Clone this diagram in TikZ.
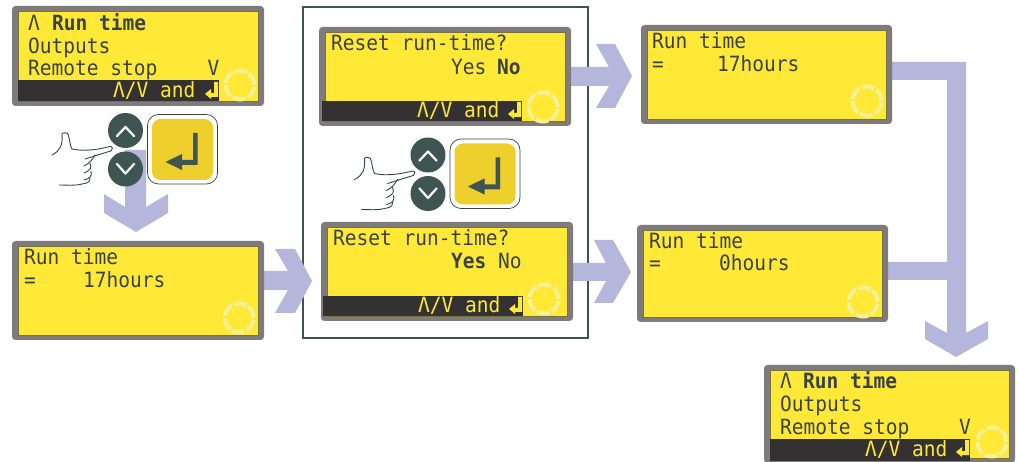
\documentclass[tikz,border=0pt]{standalone}
\usepackage{fontspec}
\newfontfamily\lcdfont[FakeStretch=0.93]{DejaVu Sans Mono}
\usetikzlibrary{calc}
\definecolor{lcdyellow}{HTML}{FFE936}
\definecolor{lcdgray}{HTML}{7F7B7B}
\definecolor{lcdbar}{HTML}{333132}
\definecolor{lcdink}{HTML}{3A4245}
\definecolor{flowblue}{HTML}{B4B6DB}
\definecolor{slate}{HTML}{3E5553}
\definecolor{keyyellow}{HTML}{EFCF2B}
\definecolor{ringcol}{HTML}{F6F097}
\newcounter{tc}
\tikzset{
  x=1pt,y=-1pt,
  lcdframe/.style={fill=lcdgray,rounded corners=3.5pt},
  lcdface/.style={fill=lcdyellow,draw=lcdink!70!lcdyellow,line width=.5pt},
  lcdtext/.style={font=\lcdfont\fontsize{21}{22}\selectfont,text=lcdink,anchor=base west,inner sep=0pt,outer sep=0pt},
  lcdbold/.style={lcdtext,font=\lcdfont\bfseries\fontsize{21}{22}\selectfont},
  bartext/.style={lcdtext,text=lcdyellow},
  flow/.style={fill=flowblue,draw=none},
  keycirc/.style={fill=slate,draw=none,circle,minimum size=35pt,inner sep=0pt},
  chev/.style={draw=white,line width=2.2pt,line cap=round,line join=round},
  handline/.style={draw=lcdink,line width=.9pt,line cap=round,line join=round},
  ring/.style={draw=ringcol,line width=4pt,dash pattern=on 13pt off 2.2pt},
}
\newcommand{\lcdt}[4][lcdtext]{\stepcounter{tc}\node[#1] (t\arabic{tc}) at (#2,#3) {#4};}
% name, x0, y0, x1, y1, ring x, ring y
\newcommand{\lcdbox}[7]{%
  \path[lcdframe] (#2,#3) rectangle (#4,#5);
  \path[lcdface] (#2+6,#3+5) rectangle (#4-6,#5-5);
  \coordinate (#1) at (#2,#3);
  \draw[ring] (#6,#7) circle[radius=14.5pt];
}
% bar left, bar top, bar right, bar bottom, text x, baseline
\newcommand{\lcdbar}[6]{%
  \path[fill=lcdbar] (#1,#2) rectangle (#3,#4);
  \lcdt[bartext]{#5}{#6}{\char"039B/V and}
  \path[fill=lcdyellow] (#3-5,#6-16) -- (#3-1,#6-16) -- (#3-1,#6-1) -- (#3-8,#6-1) -- (#3-8,#6+1) -- (#3-14,#6-4) -- (#3-8,#6-9) -- (#3-8,#6-5) -- (#3-5,#6-5) -- cycle;
}
\newcommand{\keys}[3]{% name, dx, dy
  \begin{scope}[shift={(#2,#3)}]
    \node[keycirc] (#1up) at (125.5,130.5) {};
    \node[keycirc] (#1dn) at (125.5,169) {};
    \draw[chev] (117,136) -- (125.5,127) -- (134,136);
    \draw[chev] (117,164) -- (125.5,173.5) -- (134,164);
    \path[fill=white,draw=lcdink,line width=.7pt,rounded corners=11pt] (147.5,114.5) rectangle (217.5,184);
    \path[fill=keyyellow,rounded corners=8.5pt] (152,119) rectangle (213,180);
    \path[fill=slate] (193,133) -- (197.5,133) -- (197.5,165) -- (182,165) -- (182,170) -- (165.5,162) -- (182,154) -- (182,160) -- (193,160) -- cycle;
    \draw[handline] (52,155) .. controls (60,151) and (63,145) .. (62,134) .. controls (63,132) and (67,133) .. (68,134) .. controls (70,140) and (70,146) .. (72,149) .. controls (85,152) and (100,149) .. (110,146.5) .. controls (113,146) and (113,150) .. (111,151) .. controls (100,154) and (92,157) .. (85,159);
    \draw[handline] (95,155) .. controls (92,160) and (90,163) .. (84,166);
    \draw[handline] (90,163) .. controls (92,168) and (91,170) .. (84,173);
    \draw[handline] (91,171) .. controls (92,176) and (91,178) .. (84,180);
    \draw[handline] (90,178) .. controls (90,182) and (88,183) .. (82,184) .. controls (74,186) and (68,185) .. (59,185);
  \end{scope}
}
\begin{document}
\begin{tikzpicture}
\useasboundingbox (0,0) rectangle (1018,462);
% box
\draw[slate,line width=1.4pt] (303,7) rectangle (588,338);
% flow arrows
\path[flow] (125,150) -- (146,150) -- (146,207) -- (168,194) -- (168,213) -- (136,232) -- (104,213) -- (104,194) -- (125,207) -- cycle;
\path[flow] (262,271) -- (288,271) -- (275,249) -- (295,249) -- (312,281) -- (295,313) -- (275,313) -- (288,290) -- (262,290) -- cycle;
\path[flow] (570,67) -- (609,67) -- (596,44) -- (615,44) -- (632,76) -- (615,108) -- (596,108) -- (609,86) -- (570,86) -- cycle;
\path[flow] (570,263) -- (606,263) -- (594,240) -- (613,240) -- (631,272) -- (613,303) -- (594,303) -- (606,281) -- (570,281) -- cycle;
\path[flow] (890,62) -- (966,62) -- (966,333) -- (988,321) -- (988,339) -- (956,357) -- (925,339) -- (925,321) -- (947,333) -- (947,280) -- (886,280) -- (886,262) -- (947,262) -- (947,80) -- (890,80) -- cycle;
% keys
\keys{a}{0}{0}
\keys{b}{302.5}{24.5}
% D1
\lcdbox{d1}{12}{6}{264}{106}{240}{85}
\lcdbar{18}{80.5}{219}{101}{113}{98}
\lcdt{28}{30.5}{\char"039B}\lcdt[lcdbold]{52}{30.5}{Run time}
\lcdt{28}{53.5}{Outputs}
\lcdt{28}{76}{Remote stop}\lcdt{207.5}{76}{V}
% D2
\lcdbox{d2}{319}{27}{571}{126}{543}{107}
\lcdbar{322}{101}{522}{121}{417}{118}
\lcdt{331}{50.5}{Reset run-time?}
\lcdt{451}{74.5}{Yes}\lcdt[lcdbold]{497}{74.5}{No}
% D3
\lcdbox{d3}{641}{25}{892}{124}{867}{101}
\lcdt{652}{48.5}{Run time}
\lcdt{652}{71.5}{=}\lcdt{717}{71.5}{17hours}
% D4
\lcdbox{d4}{12}{241}{264}{340}{239}{318}
\lcdt{24}{265}{Run time}
\lcdt{24}{287.5}{=}\lcdt{83}{287.5}{17hours}
% D5
\lcdbox{d5}{321}{222}{573}{321}{544}{299}
\lcdbar{323}{296}{523}{316}{418}{313}
\lcdt{333}{245.5}{Reset run-time?}
\lcdt[lcdbold]{451}{268.5}{Yes}\lcdt{498}{268.5}{No}
% D6
\lcdbox{d6}{637}{225}{888}{322}{863}{302}
\lcdt{649}{248.5}{Run time}
\lcdt{649}{271}{=}\lcdt{719}{271}{0hours}
% D7
\lcdbox{d7}{764}{365}{1015}{463}{992}{442}
\lcdbar{770}{439}{970}{461}{865}{456}
\lcdt{780}{388.5}{\char"039B}\lcdt[lcdbold]{803}{388.5}{Run time}
\lcdt{780}{411.5}{Outputs}
\lcdt{780}{434}{Remote stop}\lcdt{959}{434}{V}
\end{tikzpicture}
\end{document}
